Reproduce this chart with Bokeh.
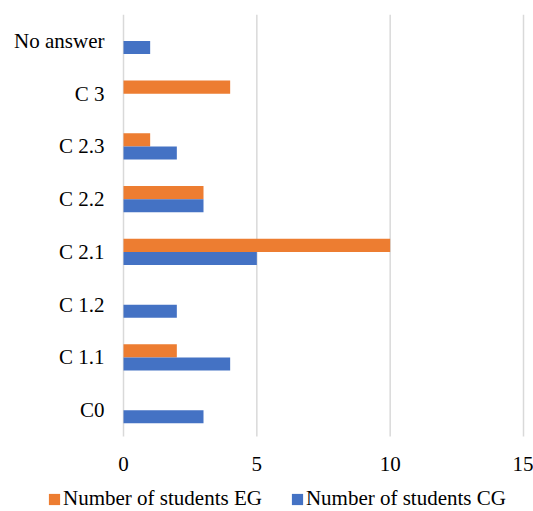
from bokeh.plotting import figure
from bokeh.models import Range1d, Legend, LegendItem, ColumnDataSource
from bokeh.transform import dodge
from bokeh.embed import file_html
from bokeh.resources import INLINE

# Categories listed bottom to top
categories = ["C0", "C 1.1", "C 1.2", "C 2.1", "C 2.2", "C 2.3", "C 3", "No answer"]
students_eg = [0, 2, 0, 10, 3, 1, 4, 0]
students_cg = [3, 4, 2, 5, 3, 2, 0, 1]
x_ticks = [0, 5, 10, 15]
series_labels = ["Number of students EG", "Number of students CG"]

ORANGE = "#ED7D31"
BLUE = "#4472C4"
GRID = "#D9D9D9"
FONT = "Liberation Serif"

W, H = 533, 511
# Plot-area geometry in pixels: value 0 at x=123, 15 at x=523,
# category band from y=14 (top) to y=436 (bottom).
ZERO_PX, MAX_PX = 123, 523
TOP_PX, BOTTOM_PX = 14, 436
FRAME_LEFT, FRAME_RIGHT = 10, 526

px_per_unit = (MAX_PX - ZERO_PX) / 15
x_start = -(ZERO_PX - FRAME_LEFT) / px_per_unit
x_end = 15 + (FRAME_RIGHT - MAX_PX) / px_per_unit

n = len(categories)
px_per_cat = (BOTTOM_PX - TOP_PX) / n
y_end = n - 0.5
y_start = y_end - (H - TOP_PX) / px_per_cat   # frame runs down to the page bottom

idx = list(range(n))
source = ColumnDataSource(dict(idx=idx, eg=students_eg, cg=students_cg))

p = figure(
    width=W, height=H,
    x_range=Range1d(x_start, x_end),
    y_range=Range1d(y_start, y_end),
    output_backend="svg", toolbar_location=None,
    min_border_left=FRAME_LEFT, min_border_right=W - FRAME_RIGHT,
    min_border_top=TOP_PX, min_border_bottom=0,
)
p.outline_line_color = None
p.background_fill_color = "white"
p.border_fill_color = "white"
p.xgrid.grid_line_color = None
p.ygrid.grid_line_color = None

# Vertical value gridlines spanning the category band
p.segment(x0=x_ticks, x1=x_ticks, y0=-0.5, y1=y_end, line_color=GRID, line_width=1.5)

r_eg = p.hbar(y=dodge("idx", 0.125), right="eg", left=0,
              height=0.25, source=source, color=ORANGE, line_color=None)
r_cg = p.hbar(y=dodge("idx", -0.125), right="cg", left=0,
              height=0.25, source=source, color=BLUE, line_color=None)

p.xaxis.ticker = x_ticks
p.yaxis.ticker = idx
p.yaxis.major_label_overrides = {i: c for i, c in zip(idx, categories)}

for ax in (p.xaxis[0], p.yaxis[0]):
    ax.axis_line_color = None
    ax.major_tick_line_color = None
    ax.minor_tick_line_color = None
    ax.major_tick_out = 0
    ax.major_tick_in = 0
    ax.major_label_text_font = FONT
    ax.major_label_text_font_size = "21px"
    ax.major_label_text_color = "#000000"

# Axis labels are pulled back inside the frame area
p.xaxis.major_label_standoff = 20 - (H - BOTTOM_PX)
p.yaxis.major_label_standoff = -(104 - FRAME_LEFT)

# Legend row under the value axis (area glyphs are inset by 10% per side)
legend = Legend(
    items=[LegendItem(label=series_labels[0], renderers=[r_eg]),
           LegendItem(label=series_labels[1], renderers=[r_cg])],
    orientation="horizontal",
    location=(47 - FRAME_LEFT, 0),
    glyph_width=14, glyph_height=14,
    label_standoff=2, spacing=28,
    padding=0, margin=0,
    border_line_color=None, background_fill_alpha=0,
    label_text_font=FONT, label_text_font_size="21px",
    label_text_color="#000000",
)
p.add_layout(legend)

open("out.html", "w").write(file_html(p, INLINE))
